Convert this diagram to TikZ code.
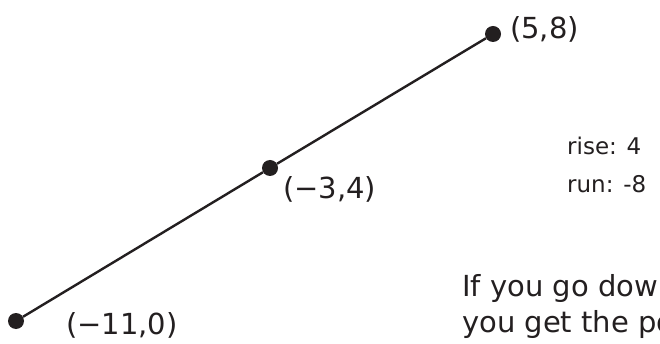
\documentclass[tikz,border=0pt]{standalone}
\usepackage{fontspec}
\setmainfont{DejaVu Sans}
\usetikzlibrary{positioning}
\definecolor{ink}{RGB}{35,31,32}

\begin{document}
\begin{tikzpicture}[x=1pt, y=-1pt,
            dot/.style={circle, fill=ink, inner sep=0pt, minimum size=16pt},
            coordlabel/.style={anchor=west, inner sep=0pt, text=ink, font=\fontsize{29}{34}\selectfont},
            note/.style={anchor=base west, inner sep=0pt, text=ink, font=\fontsize{23}{28}\selectfont},
            edge/.style={-, draw=ink, line width=2.4pt}
        ]
        \clip (0,0) rectangle (660,344);
        % Points on the line
        \node[dot] (p1) at (16, 321) {};
        \node[dot] (p2) at (270, 168) {};
        \node[dot] (p3) at (493, 34) {};
        % The line through them
        \draw[edge] (p1) -- (p2);
        \draw[edge] (p2) -- (p3);
        % Coordinates
        \node[coordlabel] (l1) at (66, 325) {(−11,0)};
        \node[coordlabel] (l2) at (283, 189) {(−3,4)};
        \node[coordlabel] (l3) at (510, 29) {(5,8)};
        % Rise and run
        \node[note] (rise) at (567, 155) {rise: 4};
        \node[note] (run) at (567, 193) {run: -8};
        % Text running off the page
        \node[note, font=\fontsize{29}{36}\selectfont] (txt1) at (462, 296) {If you go dow};
        \node[note, font=\fontsize{29}{36}\selectfont] (txt2) at (462, 332) {you get the po};
\end{tikzpicture}
\end{document}
